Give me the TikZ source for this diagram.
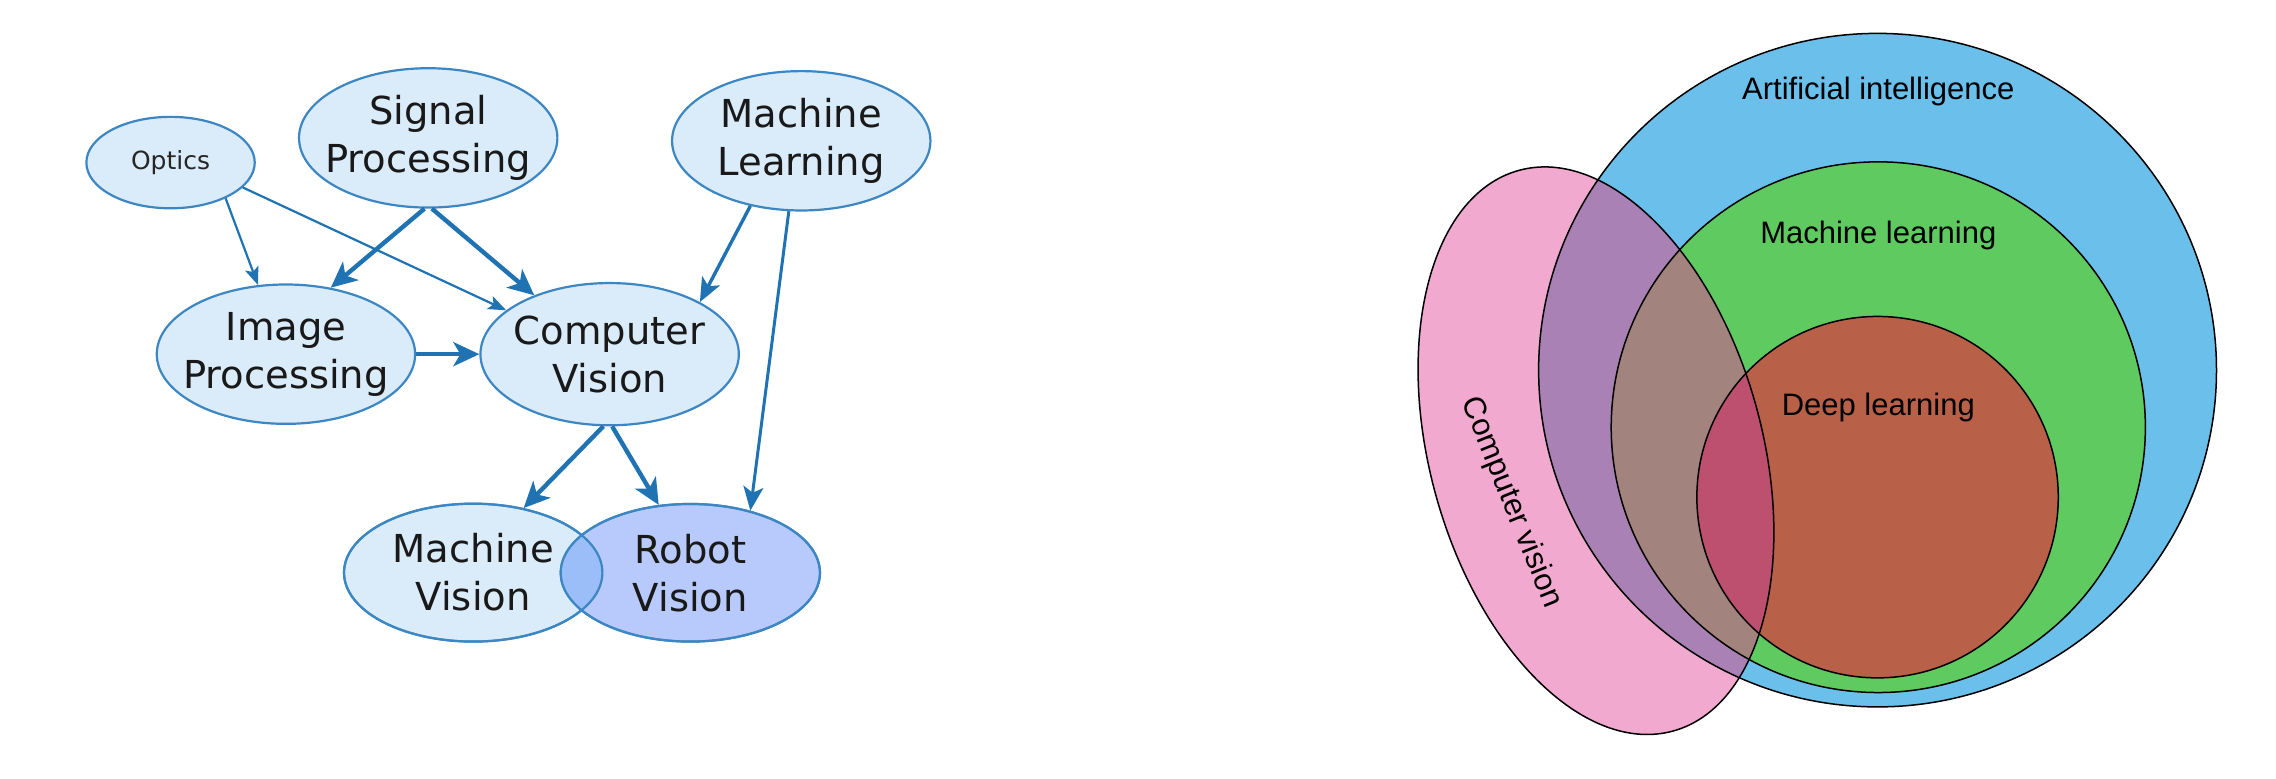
\documentclass[tikz,border=0pt]{standalone}
\usepackage{fontspec}
\newfontfamily\dv{DejaVu Sans}
\newfontfamily\lib{Liberation Sans}
\usetikzlibrary{shapes.geometric,arrows.meta}
\newcommand\kf{1.4515}
\definecolor{nfill}{HTML}{DAEBF9}
\definecolor{nbord}{HTML}{3C87C3}
\definecolor{arr}{HTML}{1F73B3}
\definecolor{rvfill}{HTML}{B8C9FB}
\definecolor{ovl}{HTML}{9BBDF8}
\definecolor{aiC}{HTML}{6BBFEB}
\definecolor{mlC}{HTML}{5FCA5F}
\definecolor{dlC}{HTML}{B86148}
\definecolor{cvC}{HTML}{F2A9CF}
\definecolor{cvAI}{HTML}{A981B4}
\definecolor{cvML}{HTML}{A3837D}
\definecolor{cvDL}{HTML}{BE506F}
\begin{document}
\begin{tikzpicture}[x=\kf pt, y=-\kf pt,
  gnode/.style={ellipse, draw=nbord, line width=2.2pt, fill=nfill, inner sep=0pt},
  esz/.style 2 args={minimum width={2*#1*\kf pt}, minimum height={2*#2*\kf pt}},
  txt/.style={font=\dv\fontsize{38.5}{48}\selectfont, align=center, text=black!90, inner sep=0pt},
  stxt/.style={font=\dv\fontsize{25}{30}\selectfont, text=black!85, inner sep=0pt},
  arrT/.style={draw=arr, line width=4.4pt, -{Stealth[length=26pt,width=24pt,inset=7pt]}},
  arrM/.style={draw=arr, line width=3.4pt, -{Stealth[length=24pt,width=20pt,inset=6pt]}},
  arrS/.style={draw=arr, line width=2.2pt, -{Stealth[length=18pt,width=14pt,inset=4pt]}},
  vtxt/.style={font=\lib\fontsize{31}{36}\selectfont, text=black, inner sep=0pt},
  vline/.style={draw=black, line width=1.5pt}]
\useasboundingbox (0,0) rectangle (1568,536);
\fill[white] (0,0) rectangle (1568,536);

% ---------- left: graph ----------
\node[gnode, esz={58}{31.5}] (opt) at (117.5,112) {};
\node[gnode, esz={89}{48}] (sig) at (295,95) {};
\node[gnode, esz={89}{48}] (ml) at (552,97) {};
\node[gnode, esz={89}{48}] (img) at (197,244) {};
\node[gnode, esz={89}{49}] (cv) at (420,244) {};
\node[gnode, esz={89}{47.5}] (mv) at (326,394.5) {};
\node[gnode, esz={89.3}{47.4}, fill=rvfill] (rv) at (475.6,394.6) {};
\begin{scope}
  \clip (326,394.5) ellipse (89 and 47.5);
  \fill[ovl] (475.6,394.6) ellipse (89.3 and 47.4);
\end{scope}
\draw[nbord, line width=2.2pt] (326,394.5) ellipse (89 and 47.5);
\draw[nbord, line width=2.2pt] (475.6,394.6) ellipse (89.3 and 47.4);

\node[stxt] (optT) at (opt) {Optics};
\node[txt] (sigT) at (sig) {Signal\\Processing};
\node[txt] (mlT) at (ml) {Machine\\Learning};
\node[txt] (imgT) at (img) {Image\\Processing};
\node[txt] (cvT) at (cv) {Computer\\Vision};
\node[txt] (mvT) at (mv) {Machine\\Vision};
\node[txt] (rvT) at (rv) {Robot\\Vision};

\draw[arrS] (opt.-33) -- (img.112);
\draw[arrS] (opt.-19) -- (cv.157);
\draw[arrT] (sig.-93) -- (img.56);
\draw[arrT] (sig.-87) -- (cv.142);
\draw[arrT] (img.0) -- (cv.180);
\draw[arrM] (ml.-128) -- (cv.30);
\draw[arrM, line width=3pt] (ml.-100) -- (rv.46);
\draw[arrT] (cv.-95) -- (mv.52);
\draw[arrT] (cv.-88) -- (rv.115);

% ---------- right: Venn ----------
\fill[aiC] (1293.5,255) ellipse (233.5 and 232);
\fill[mlC] (1294,294.3) ellipse (184 and 182.8);
\fill[dlC] (1293.5,342.5) ellipse (124.5 and 124.5);
\begin{scope}
  \clip[rotate around={-74.6:(1099.5,310.5)}] (1099.5,310.5) ellipse (200.3 and 114.5);
  \fill[cvC] (880,0) rectangle (1300,536);
  \fill[cvAI] (1293.5,255) ellipse (233.5 and 232);
  \fill[cvML] (1294,294.3) ellipse (184 and 182.8);
  \fill[cvDL] (1293.5,342.5) ellipse (124.5 and 124.5);
\end{scope}
\draw[vline] (1293.5,255) ellipse (233.5 and 232);
\draw[vline] (1294,294.3) ellipse (184 and 182.8);
\draw[vline] (1293.5,342.5) ellipse (124.5 and 124.5);
\draw[vline, rotate around={-74.6:(1099.5,310.5)}] (1099.5,310.5) ellipse (200.3 and 114.5);

\node[vtxt] (aiT) at (1294,63) {Artificial intelligence};
\node[vtxt] (mlT2) at (1294,162) {Machine learning};
\node[vtxt] (dlT) at (1294,281) {Deep learning};
\node[vtxt, rotate=-68] (cvT2) at (1041,346) {Computer vision};
\end{tikzpicture}
\end{document}
